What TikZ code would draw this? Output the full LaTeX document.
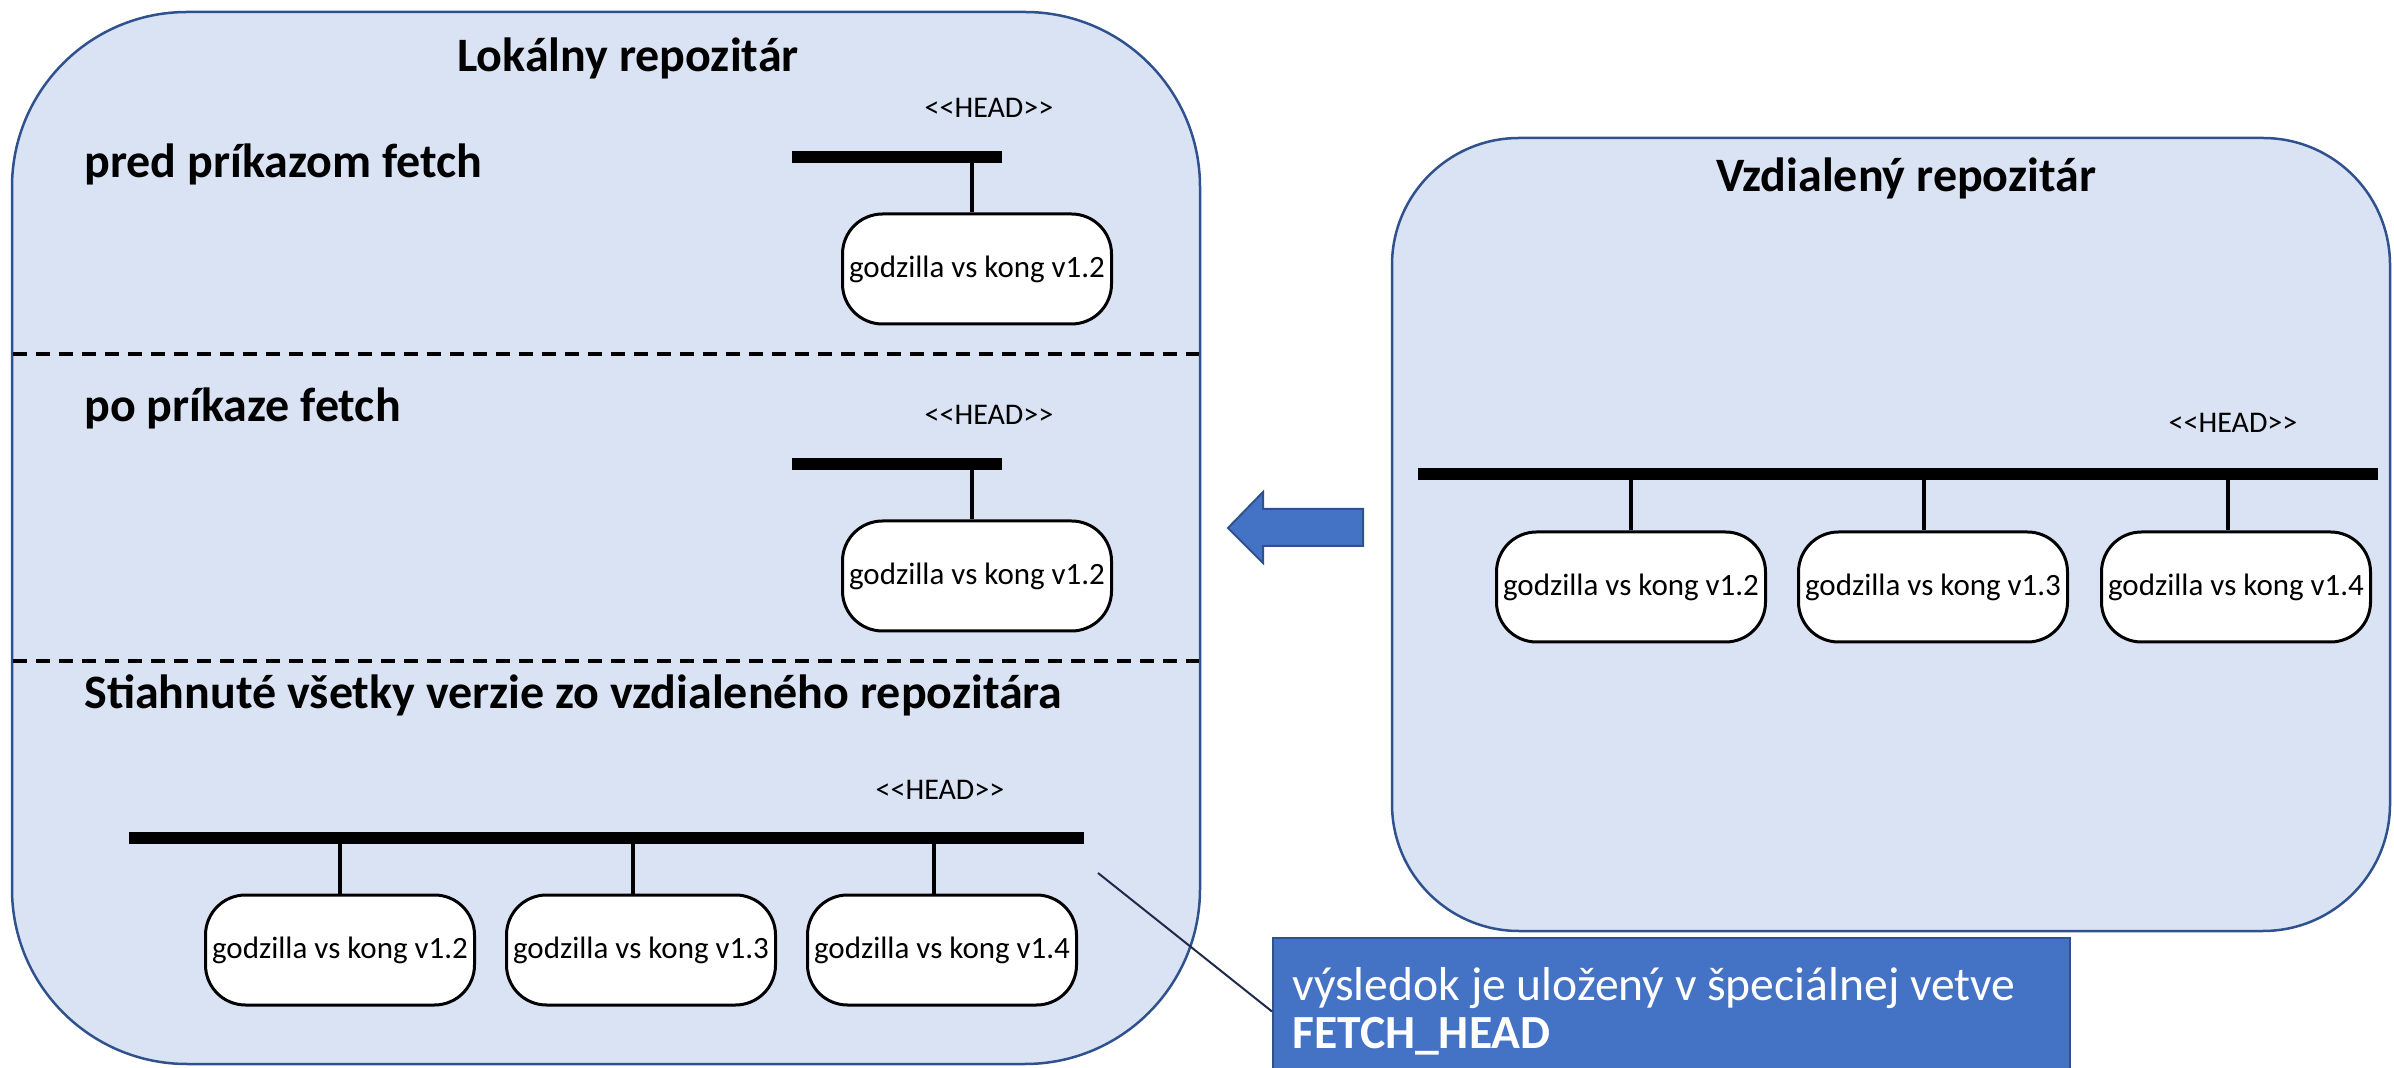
\documentclass[tikz,border=0pt]{standalone}
\usepackage{fontspec}
\setmainfont{Carlito}
\usetikzlibrary{positioning}

\definecolor{repofill}{HTML}{DAE3F3}
\definecolor{repoline}{HTML}{2F528F}
\definecolor{accent}{HTML}{4472C4}
\definecolor{pointer}{HTML}{1F2A4A}

\tikzset{
  repo/.style={draw=repoline, line width=1.25pt, fill=repofill},
  heading/.style={font=\fontsize{24}{28}\selectfont\bfseries, inner sep=0pt},
  headlabel/.style={font=\fontsize{15}{18}\selectfont, inner sep=0pt},
  version/.style={draw, line width=1.5pt, fill=white, rounded corners=20pt,
    minimum width=134.5pt, minimum height=55pt, inner sep=0pt,
    font=\fontsize{15.5}{18}\selectfont},
  branch/.style={line width=6pt},
  stem/.style={line width=1.6pt},
  divider/.style={line width=1.75pt, dash pattern=on 7pt off 4.5pt},
  blockarrow/.style={fill=accent, draw=repoline, line width=1pt},
  notebox/.style={fill=accent, draw=repoline, line width=1pt, inner sep=0pt},
  notetext/.style={font=\fontsize{23.8}{24}\selectfont, text=white, align=left, inner sep=0pt},
}

\begin{document}
\begin{tikzpicture}[x=0.5pt, y=-0.5pt]

  \useasboundingbox (0,0) rectangle (2394,1068);

  % Repositories
  \draw[repo, rounded corners=87.5pt] (12,12) rectangle (1200,1064);
  \draw[repo, rounded corners=63.5pt] (1392,138) rectangle (2390,931);

  % Section dividers
  \draw[divider] (13,354) -- (1199,354);
  \draw[divider] (13,661) -- (1199,661);

  % Titles and section headings
  \node[heading, anchor=base]      (locTitle) at (628,72)  {Lokálny repozitár};
  \node[heading, anchor=base]      (remTitle) at (1906,192) {Vzdialený repozitár};
  \node[heading, anchor=base west] (before)   at (84,178)  {pred príkazom fetch};
  \node[heading, anchor=base west] (after)    at (84,422)  {po príkaze fetch};
  \node[heading, anchor=base west] (fetched)  at (84,709)  {Stiahnuté všetky verzie zo vzdialeného repozitára};

  % Before fetch
  \coordinate (barA1) at (792,157);
  \coordinate (barA2) at (1002,157);
  \draw[branch] (barA1) -- (barA2);
  \node[headlabel, anchor=base] (headA) at (989,118) {{<}{<}HEAD{>}{>}};
  \node[version] (a12) at (977,269) {godzilla vs kong v1.2};
  \draw[stem] ([xshift=-2.5pt]a12.north) -- ([xshift=-2.5pt]a12.north |- barA1);

  % After fetch
  \coordinate (barB1) at (792,464);
  \coordinate (barB2) at (1002,464);
  \draw[branch] (barB1) -- (barB2);
  \node[headlabel, anchor=base] (headB) at (989,425) {{<}{<}HEAD{>}{>}};
  \node[version] (b12) at (977,576) {godzilla vs kong v1.2};
  \draw[stem] ([xshift=-2.5pt]b12.north) -- ([xshift=-2.5pt]b12.north |- barB1);

  % Fetched versions
  \coordinate (barC1) at (129,838);
  \coordinate (barC2) at (1084,838);
  \draw[branch] (barC1) -- (barC2);
  \node[headlabel, anchor=base] (headC) at (940,800) {{<}{<}HEAD{>}{>}};
  \node[version] (c12) at (340,950) {godzilla vs kong v1.2};
  \node[version] (c13) at (641,950) {godzilla vs kong v1.3};
  \node[version] (c14) at (942,950) {godzilla vs kong v1.4};
  \draw[stem] (c12.north) -- (c12.north |- barC1);
  \draw[stem] ([xshift=-4pt]c13.north) -- ([xshift=-4pt]c13.north |- barC1);
  \draw[stem] ([xshift=-4pt]c14.north) -- ([xshift=-4pt]c14.north |- barC1);

  % Remote versions
  \coordinate (barR1) at (1418,474);
  \coordinate (barR2) at (2378,474);
  \draw[branch] (barR1) -- (barR2);
  \node[headlabel, anchor=base] (headR) at (2233,433) {{<}{<}HEAD{>}{>}};
  \node[version] (r12) at (1631,587) {godzilla vs kong v1.2};
  \node[version] (r13) at (1933,587) {godzilla vs kong v1.3};
  \node[version] (r14) at (2236,587) {godzilla vs kong v1.4};
  \draw[stem] (r12.north) -- (r12.north |- barR1);
  \draw[stem] ([xshift=-4.5pt]r13.north) -- ([xshift=-4.5pt]r13.north |- barR1);
  \draw[stem] ([xshift=-4pt]r14.north) -- ([xshift=-4pt]r14.north |- barR1);

  % Fetch arrow
  \draw[blockarrow] (1228,528) -- (1263,492) -- (1263,509) -- (1363,509)
    -- (1363,546) -- (1263,546) -- (1263,563) -- cycle;

  % Note on FETCH_HEAD
  \node[notebox, anchor=north west, minimum width=398.5pt, minimum height=81.5pt] (note) at (1272,937) {};
  \node[notetext, anchor=base west] (noteText) at (1292,1048)
    {výsledok je uložený v špeciálnej vetve\\\textbf{FETCH\_HEAD}};
  \coordinate (pointerStart) at (1098,873);
  \draw[pointer, line width=1pt] (pointerStart) -- ([yshift=4pt]note.west);

\end{tikzpicture}
\end{document}
